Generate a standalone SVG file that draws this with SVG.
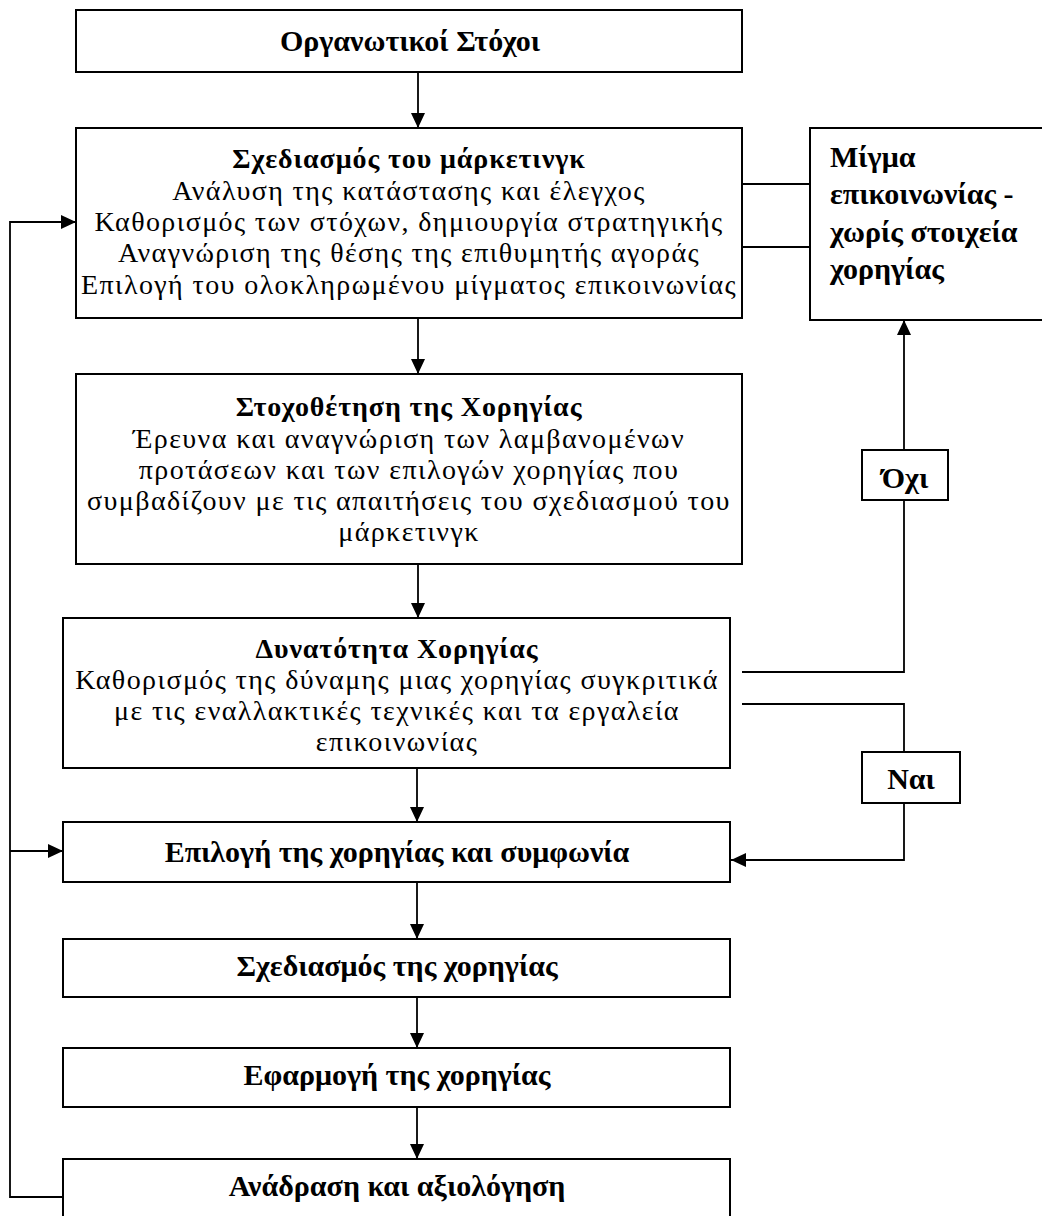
<svg xmlns="http://www.w3.org/2000/svg" width="1042" height="1216" viewBox="0 0 1042 1216">
<defs>
<marker id="arr" markerWidth="15" markerHeight="14" refX="15" refY="7" orient="auto" markerUnits="userSpaceOnUse">
<path d="M0,0 L15,7 L0,14 Z" fill="#000"/>
</marker>
<style>
.box{fill:#fff;stroke:#000;stroke-width:2}
.ln{fill:none;stroke:#000;stroke-width:1.8}
text{font-family:"Liberation Serif","Times New Roman",serif;font-size:28px;fill:#000}
.m{letter-spacing:1.4px}
.c{text-anchor:middle}
.b{font-weight:bold;font-size:30px}
.t{font-weight:bold;font-size:28px;letter-spacing:0.9px}
</style>
</defs>
<rect width="1042" height="1216" fill="#fff"/>
<g id="connectors">
<line class="ln" x1="418" y1="72" x2="418" y2="128" marker-end="url(#arr)"/>
<line class="ln" x1="418" y1="318" x2="418" y2="374" marker-end="url(#arr)"/>
<line class="ln" x1="418" y1="564" x2="418" y2="618" marker-end="url(#arr)"/>
<line class="ln" x1="417" y1="768" x2="417" y2="822" marker-end="url(#arr)"/>
<line class="ln" x1="417" y1="882" x2="417" y2="939" marker-end="url(#arr)"/>
<line class="ln" x1="417" y1="997" x2="417" y2="1048" marker-end="url(#arr)"/>
<line class="ln" x1="417" y1="1107" x2="417" y2="1159" marker-end="url(#arr)"/>
<line class="ln" x1="742" y1="184" x2="810" y2="184"/>
<line class="ln" x1="742" y1="247" x2="810" y2="247"/>
<polyline class="ln" points="63,1197 10,1197 10,222 76,222" marker-end="url(#arr)"/>
<line class="ln" x1="10" y1="851" x2="63" y2="851" marker-end="url(#arr)"/>
<polyline class="ln" points="742,672 904,672 904,500"/>
<line class="ln" x1="904" y1="450" x2="904" y2="320" marker-end="url(#arr)"/>
<polyline class="ln" points="742,704 904,704 904,752"/>
<polyline class="ln" points="904,803 904,860 731,860" marker-end="url(#arr)"/>
</g>
<g id="n1"><rect class="box" x="76" y="10" width="666" height="62"/><text class="c b" x="410" y="51">Οργανωτικοί Στόχοι</text></g>
<g id="n2"><rect class="box" x="76" y="128" width="666" height="190"/>
<text class="c t" x="409" y="168">Σχεδιασμός του μάρκετινγκ</text>
<text class="c m"><tspan x="409" y="200">Ανάλυση της κατάστασης και έλεγχος</tspan><tspan x="409" y="231">Καθορισμός των στόχων, δημιουργία στρατηγικής</tspan><tspan x="409" y="262">Αναγνώριση της θέσης της επιθυμητής αγοράς</tspan><tspan x="409" y="294">Επιλογή του ολοκληρωμένου μίγματος επικοινωνίας</tspan></text></g>
<g id="n_mix"><rect class="box" x="810" y="128" width="240" height="192"/>
<text class="b"><tspan x="830" y="167">Μίγμα</tspan><tspan x="830" y="204">επικοινωνίας -</tspan><tspan x="830" y="242">χωρίς στοιχεία</tspan><tspan x="830" y="279">χορηγίας</tspan></text></g>
<g id="n3"><rect class="box" x="76" y="374" width="666" height="190"/>
<text class="c t" x="409" y="416">Στοχοθέτηση της Χορηγίας</text>
<text class="c m"><tspan x="409" y="448">Έρευνα και αναγνώριση των λαμβανομένων</tspan><tspan x="409" y="479">προτάσεων και των επιλογών χορηγίας που</tspan><tspan x="409" y="510">συμβαδίζουν με τις απαιτήσεις του σχεδιασμού του</tspan><tspan x="409" y="541">μάρκετινγκ</tspan></text></g>
<g id="n4"><rect class="box" x="63" y="618" width="667" height="150"/>
<text class="c t" x="397" y="658">Δυνατότητα Χορηγίας</text>
<text class="c m"><tspan x="397" y="689">Καθορισμός της δύναμης μιας χορηγίας συγκριτικά</tspan><tspan x="397" y="720">με τις εναλλακτικές τεχνικές και τα εργαλεία</tspan><tspan x="397" y="751">επικοινωνίας</tspan></text></g>
<g id="n_no"><rect class="box" x="862" y="450" width="86" height="50"/><text class="c b" x="905" y="488">Όχι</text></g>
<g id="n_yes"><rect class="box" x="862" y="752" width="98" height="51"/><text class="c b" x="911" y="789">Ναι</text></g>
<g id="n5"><rect class="box" x="63" y="822" width="667" height="60"/><text class="c b" x="397" y="862">Επιλογή της χορηγίας και συμφωνία</text></g>
<g id="n6"><rect class="box" x="63" y="939" width="667" height="58"/><text class="c b" x="397" y="976">Σχεδιασμός της χορηγίας</text></g>
<g id="n7"><rect class="box" x="63" y="1048" width="667" height="59"/><text class="c b" x="397" y="1085">Εφαρμογή της χορηγίας</text></g>
<g id="n8"><rect class="box" x="63" y="1159" width="667" height="70"/><text class="c b" x="397" y="1196">Ανάδραση και αξιολόγηση</text></g>
</svg>
